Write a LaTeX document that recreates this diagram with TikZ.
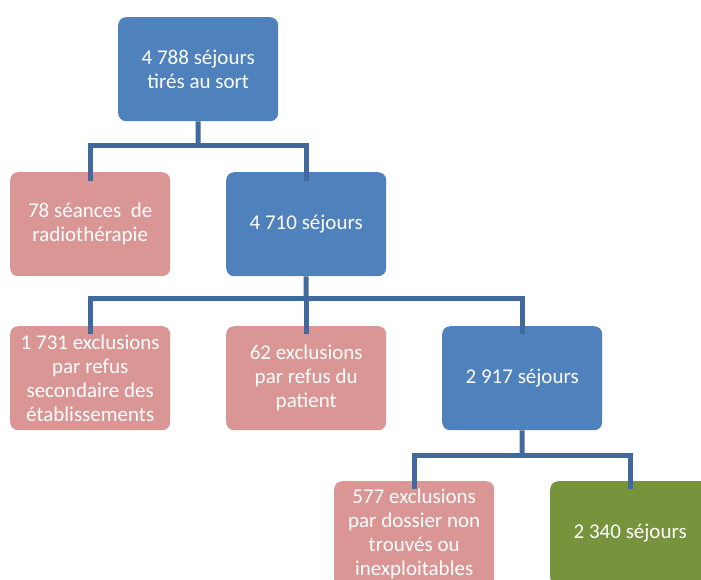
\documentclass[tikz,border=0pt]{standalone}
\usepackage{fontspec}
\setmainfont{Carlito}
\definecolor{bblue}{HTML}{4F81BD}
\definecolor{bpink}{HTML}{D99694}
\definecolor{bgreen}{HTML}{77933C}
\definecolor{lineblue}{HTML}{41699D}
\begin{document}
\begin{tikzpicture}[x=1pt,y=-1pt,
  box/.style={rounded corners=8pt, minimum width=160pt, minimum height=104pt, inner sep=0pt,
    text=white, align=center, font=\fontsize{21}{24}\selectfont, anchor=north west},
  bluebox/.style={box, fill=bblue},
  pinkbox/.style={box, fill=bpink},
  greenbox/.style={box, fill=bgreen},
  conn/.style={draw=lineblue, line width=5pt}
]
\useasboundingbox (0,0) rectangle (701,579);
\clip (0,0) rectangle (701,579);
\node[bluebox] (top) at (118,17) {4 788 séjours\\tirés au sort};
\node[pinkbox] (radio) at (10,172) {78 séances~ de\\radiothérapie};
\node[bluebox] (s4710) at (226,172) {4 710 séjours};
\node[pinkbox] (ex1731) at (10,326) {1 731 exclusions\\par refus\\secondaire des\\établissements};
\node[pinkbox] (ex62) at (226,326) {62 exclusions\\par refus du\\patient};
\node[bluebox] (s2917) at (442,326) {2 917 séjours};
\node[pinkbox, minimum height=106pt] (ex577) at (334,481) {577 exclusions\\par dossier non\\trouvés ou\\inexploitables};
\node[greenbox] (s2340) at (550,481) {2 340 séjours};

\coordinate (h1) at (198,145);
\draw[conn] (top.south) -- (h1);
\draw[conn] ([yshift=-9pt]radio.north) |- (h1) -| ([yshift=-9pt]s4710.north);
\coordinate (h2) at (306,298);
\draw[conn] (s4710.south) -- (h2);
\draw[conn] ([yshift=-8pt]ex1731.north) |- (h2) -| ([yshift=-8pt]s2917.north);
\draw[conn] ([yshift=-8pt]ex62.north) -- ([yshift=2.5pt]ex62.north |- h2);
\coordinate (h3) at (522,455);
\draw[conn] (s2917.south) -- (h3);
\draw[conn] ([yshift=-8pt]ex577.north) |- (h3) -| ([yshift=-8pt]s2340.north);
\end{tikzpicture}
\end{document}
